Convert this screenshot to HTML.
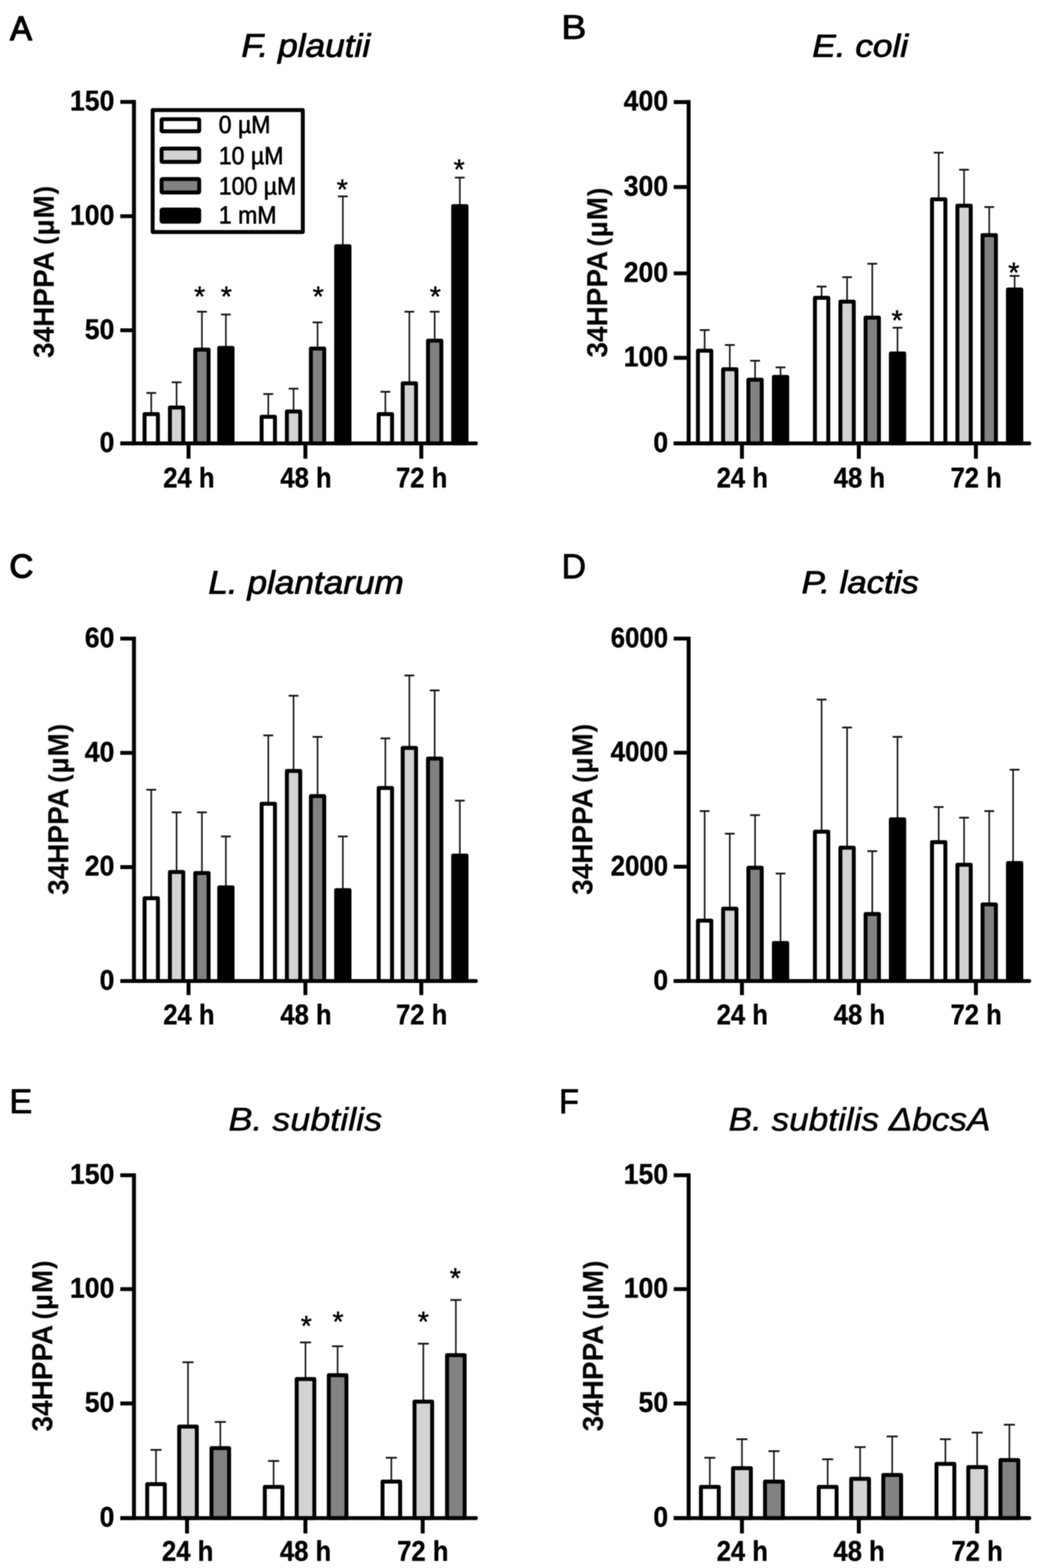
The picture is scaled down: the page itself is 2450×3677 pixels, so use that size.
<!DOCTYPE html>
<html lang="en"><head><meta charset="utf-8"><title>34HPPA production by gut bacteria</title>
<style>
html,body{margin:0;padding:0;background:#fff;}
body{width:2450px;height:3677px;}
svg{display:block;font-family:"Liberation Sans",sans-serif;}
#fig{filter:blur(0.8px);}
text{fill:#000;white-space:pre;}
</style></head><body>
<svg width="2450" height="3677" viewBox="0 0 2450 3677">
<rect width="2450" height="3677" fill="#fff"/>
<g id="fig">
<g>
<line x1="354.6" y1="921.5" x2="354.6" y2="968.45" stroke="#161616" stroke-width="3.7" stroke-linecap="butt"/>
<line x1="343.1" y1="921.5" x2="366.1" y2="921.5" stroke="#161616" stroke-width="4.2" stroke-linecap="butt"/>
<line x1="414" y1="896.5" x2="414" y2="952.95" stroke="#161616" stroke-width="3.7" stroke-linecap="butt"/>
<line x1="402.5" y1="896.5" x2="425.5" y2="896.5" stroke="#161616" stroke-width="4.2" stroke-linecap="butt"/>
<line x1="473.4" y1="731" x2="473.4" y2="817.2" stroke="#161616" stroke-width="3.7" stroke-linecap="butt"/>
<line x1="461.9" y1="731" x2="484.9" y2="731" stroke="#161616" stroke-width="4.2" stroke-linecap="butt"/>
<line x1="529.6" y1="737.5" x2="529.6" y2="813.2" stroke="#161616" stroke-width="3.7" stroke-linecap="butt"/>
<line x1="518.1" y1="737.5" x2="541.1" y2="737.5" stroke="#161616" stroke-width="4.2" stroke-linecap="butt"/>
<line x1="629" y1="924" x2="629" y2="974.7" stroke="#161616" stroke-width="3.7" stroke-linecap="butt"/>
<line x1="617.5" y1="924" x2="640.5" y2="924" stroke="#161616" stroke-width="4.2" stroke-linecap="butt"/>
<line x1="688.25" y1="911.5" x2="688.25" y2="962.2" stroke="#161616" stroke-width="3.7" stroke-linecap="butt"/>
<line x1="676.75" y1="911.5" x2="699.75" y2="911.5" stroke="#161616" stroke-width="4.2" stroke-linecap="butt"/>
<line x1="744.5" y1="756" x2="744.5" y2="814.7" stroke="#161616" stroke-width="3.7" stroke-linecap="butt"/>
<line x1="733" y1="756" x2="756" y2="756" stroke="#161616" stroke-width="4.2" stroke-linecap="butt"/>
<line x1="803.75" y1="460.5" x2="803.75" y2="574.7" stroke="#161616" stroke-width="3.7" stroke-linecap="butt"/>
<line x1="792.25" y1="460.5" x2="815.25" y2="460.5" stroke="#161616" stroke-width="4.2" stroke-linecap="butt"/>
<line x1="903.5" y1="918.75" x2="903.5" y2="968.45" stroke="#161616" stroke-width="3.7" stroke-linecap="butt"/>
<line x1="892" y1="918.75" x2="915" y2="918.75" stroke="#161616" stroke-width="4.2" stroke-linecap="butt"/>
<line x1="959.75" y1="731" x2="959.75" y2="896.2" stroke="#161616" stroke-width="3.7" stroke-linecap="butt"/>
<line x1="948.25" y1="731" x2="971.25" y2="731" stroke="#161616" stroke-width="4.2" stroke-linecap="butt"/>
<line x1="1019.1" y1="731" x2="1019.1" y2="796.2" stroke="#161616" stroke-width="3.7" stroke-linecap="butt"/>
<line x1="1007.6" y1="731" x2="1030.6" y2="731" stroke="#161616" stroke-width="4.2" stroke-linecap="butt"/>
<line x1="1078.1" y1="416.5" x2="1078.1" y2="480.7" stroke="#161616" stroke-width="3.7" stroke-linecap="butt"/>
<line x1="1066.6" y1="416.5" x2="1089.6" y2="416.5" stroke="#161616" stroke-width="4.2" stroke-linecap="butt"/>
<rect x="338.95" y="971.05" width="31.3" height="68.7" fill="#ffffff" stroke="#000" stroke-width="9.2" stroke-linejoin="round"/>
<rect x="398.35" y="955.55" width="31.3" height="84.2" fill="#d3d3d3" stroke="#000" stroke-width="9.2" stroke-linejoin="round"/>
<rect x="457.75" y="819.8" width="31.3" height="219.95" fill="#828282" stroke="#000" stroke-width="9.2" stroke-linejoin="round"/>
<rect x="513.95" y="815.8" width="31.3" height="223.95" fill="#000000" stroke="#000" stroke-width="9.2" stroke-linejoin="round"/>
<rect x="613.35" y="977.3" width="31.3" height="62.45" fill="#ffffff" stroke="#000" stroke-width="9.2" stroke-linejoin="round"/>
<rect x="672.6" y="964.8" width="31.3" height="74.95" fill="#d3d3d3" stroke="#000" stroke-width="9.2" stroke-linejoin="round"/>
<rect x="728.85" y="817.3" width="31.3" height="222.45" fill="#828282" stroke="#000" stroke-width="9.2" stroke-linejoin="round"/>
<rect x="788.1" y="577.3" width="31.3" height="462.45" fill="#000000" stroke="#000" stroke-width="9.2" stroke-linejoin="round"/>
<rect x="887.85" y="971.05" width="31.3" height="68.7" fill="#ffffff" stroke="#000" stroke-width="9.2" stroke-linejoin="round"/>
<rect x="944.1" y="898.8" width="31.3" height="140.95" fill="#d3d3d3" stroke="#000" stroke-width="9.2" stroke-linejoin="round"/>
<rect x="1003.45" y="798.8" width="31.3" height="240.95" fill="#828282" stroke="#000" stroke-width="9.2" stroke-linejoin="round"/>
<rect x="1062.45" y="483.3" width="31.3" height="556.45" fill="#000000" stroke="#000" stroke-width="9.2" stroke-linejoin="round"/>
<line x1="314.1" y1="234.4" x2="314.1" y2="1044.35" stroke="#000" stroke-width="9.2" stroke-linecap="butt"/>
<line x1="282" y1="1039.75" x2="1117.5" y2="1039.75" stroke="#000" stroke-width="9.2" stroke-linecap="butt"/>
<circle cx="1115.9" cy="1039.75" r="4.6"/>
<line x1="282" y1="239" x2="314.1" y2="239" stroke="#000" stroke-width="9.2" stroke-linecap="butt"/>
<text transform="translate(164.05 259) scale(0.9360 1.0000)" font-size="66.6" font-weight="bold" stroke="#000" stroke-width="0.8" stroke-linejoin="round">150</text>
<line x1="282" y1="507" x2="314.1" y2="507" stroke="#000" stroke-width="9.2" stroke-linecap="butt"/>
<text transform="translate(164.05 527) scale(0.9360 1.0000)" font-size="66.6" font-weight="bold" stroke="#000" stroke-width="0.8" stroke-linejoin="round">100</text>
<line x1="282" y1="774.5" x2="314.1" y2="774.5" stroke="#000" stroke-width="9.2" stroke-linecap="butt"/>
<text transform="translate(198.8 794.5) scale(0.9360 1.0000)" font-size="66.6" font-weight="bold" stroke="#000" stroke-width="0.8" stroke-linejoin="round">50</text>
<line x1="282" y1="1039.75" x2="314.1" y2="1039.75" stroke="#000" stroke-width="9.2" stroke-linecap="butt"/>
<text transform="translate(233.4 1059.75) scale(0.9360 1.0000)" font-size="66.6" font-weight="bold" stroke="#000" stroke-width="0.8" stroke-linejoin="round">0</text>
<line x1="442" y1="1039.75" x2="442" y2="1075.75" stroke="#000" stroke-width="9.2" stroke-linecap="butt"/>
<text transform="translate(382.63 1143.35) scale(0.9000 1.0000)" font-size="66.8" font-weight="bold" stroke="#000" stroke-width="0.8" stroke-linejoin="round">24 h</text>
<line x1="716" y1="1039.75" x2="716" y2="1075.75" stroke="#000" stroke-width="9.2" stroke-linecap="butt"/>
<text transform="translate(657.23 1143.35) scale(0.9000 1.0000)" font-size="66.8" font-weight="bold" stroke="#000" stroke-width="0.8" stroke-linejoin="round">48 h</text>
<line x1="987.75" y1="1039.75" x2="987.75" y2="1075.75" stroke="#000" stroke-width="9.2" stroke-linecap="butt"/>
<text transform="translate(928.41 1143.35) scale(0.9000 1.0000)" font-size="66.8" font-weight="bold" stroke="#000" stroke-width="0.8" stroke-linejoin="round">72 h</text>
<text transform="translate(126.1 839.48) rotate(-90) scale(0.9607 1)" font-size="68.3" font-weight="bold"><tspan>34HPPA </tspan><tspan x="276.23" dy="-1.5" font-size="62.7" letter-spacing="1.9">(</tspan><tspan dy="1.5" letter-spacing="1.9">µM</tspan><tspan dy="-1.5" font-size="62.7">)</tspan></text>
<text transform="translate(566.02 133.2) scale(1.1031 1.0000)" font-size="75.03" font-style="italic" stroke="#000" stroke-width="1.8" stroke-linejoin="round">F. plautii</text>
<text transform="translate(23.51 93.9) scale(0.9694 1.0000)" font-size="79.56" stroke="#000" stroke-width="3" stroke-linejoin="round">A</text>
<text transform="translate(455.11 718.26)" font-size="67.14" stroke="#000" stroke-width="1" stroke-linejoin="round">*</text>
<text transform="translate(517.41 718.26)" font-size="67.14" stroke="#000" stroke-width="1" stroke-linejoin="round">*</text>
<text transform="translate(732.91 718.46)" font-size="67.14" stroke="#000" stroke-width="1" stroke-linejoin="round">*</text>
<text transform="translate(789.46 466.76)" font-size="66.86" stroke="#000" stroke-width="1" stroke-linejoin="round">*</text>
<text transform="translate(1007.41 718.46)" font-size="67.14" stroke="#000" stroke-width="1" stroke-linejoin="round">*</text>
<text transform="translate(1063.46 420.26)" font-size="66.86" stroke="#000" stroke-width="1" stroke-linejoin="round">*</text>
<rect x="357.9" y="258.1" width="352" height="286" fill="#fff" stroke="#000" stroke-width="9.2" stroke-linejoin="round"/>
<rect x="378.8" y="279.5" width="88.2" height="28.4" rx="2" fill="#ffffff" stroke="#000" stroke-width="9.2" stroke-linejoin="round"/>
<text transform="translate(512.84 311.9) scale(0.9310 1.0000)" font-size="58.1" stroke="#000" stroke-width="1.5" stroke-linejoin="round">0 µM</text>
<rect x="378.8" y="348.4" width="88.2" height="31.2" rx="2" fill="#d3d3d3" stroke="#000" stroke-width="9.2" stroke-linejoin="round"/>
<text transform="translate(513.04 384.6) scale(0.9310 1.0000)" font-size="58.1" stroke="#000" stroke-width="1.5" stroke-linejoin="round">10 µM</text>
<rect x="378.8" y="419.9" width="88.2" height="31.4" rx="2" fill="#828282" stroke="#000" stroke-width="9.2" stroke-linejoin="round"/>
<text transform="translate(513.04 456.1) scale(0.9310 1.0000)" font-size="58.1" stroke="#000" stroke-width="1.5" stroke-linejoin="round">100 µM</text>
<rect x="378.8" y="491.3" width="88.2" height="28.5" rx="2" fill="#000000" stroke="#000" stroke-width="9.2" stroke-linejoin="round"/>
<text transform="translate(513.04 524.4) scale(0.9310 1.0000)" font-size="58.1" stroke="#000" stroke-width="1.5" stroke-linejoin="round">1 mM</text>
</g>
<g>
<line x1="1652" y1="774" x2="1652" y2="819.7" stroke="#161616" stroke-width="3.7" stroke-linecap="butt"/>
<line x1="1640.5" y1="774" x2="1663.5" y2="774" stroke="#161616" stroke-width="4.2" stroke-linecap="butt"/>
<line x1="1711" y1="809" x2="1711" y2="863.2" stroke="#161616" stroke-width="3.7" stroke-linecap="butt"/>
<line x1="1699.5" y1="809" x2="1722.5" y2="809" stroke="#161616" stroke-width="4.2" stroke-linecap="butt"/>
<line x1="1770.25" y1="846" x2="1770.25" y2="887.7" stroke="#161616" stroke-width="3.7" stroke-linecap="butt"/>
<line x1="1758.75" y1="846" x2="1781.75" y2="846" stroke="#161616" stroke-width="4.2" stroke-linecap="butt"/>
<line x1="1830" y1="861.5" x2="1830" y2="881.2" stroke="#161616" stroke-width="3.7" stroke-linecap="butt"/>
<line x1="1818.5" y1="861.5" x2="1841.5" y2="861.5" stroke="#161616" stroke-width="4.2" stroke-linecap="butt"/>
<line x1="1926.25" y1="672" x2="1926.25" y2="695.7" stroke="#161616" stroke-width="3.7" stroke-linecap="butt"/>
<line x1="1914.75" y1="672" x2="1937.75" y2="672" stroke="#161616" stroke-width="4.2" stroke-linecap="butt"/>
<line x1="1986" y1="650" x2="1986" y2="704.7" stroke="#161616" stroke-width="3.7" stroke-linecap="butt"/>
<line x1="1974.5" y1="650" x2="1997.5" y2="650" stroke="#161616" stroke-width="4.2" stroke-linecap="butt"/>
<line x1="2045" y1="618.5" x2="2045" y2="742.2" stroke="#161616" stroke-width="3.7" stroke-linecap="butt"/>
<line x1="2033.5" y1="618.5" x2="2056.5" y2="618.5" stroke="#161616" stroke-width="4.2" stroke-linecap="butt"/>
<line x1="2104.25" y1="768.5" x2="2104.25" y2="826.2" stroke="#161616" stroke-width="3.7" stroke-linecap="butt"/>
<line x1="2092.75" y1="768.5" x2="2115.75" y2="768.5" stroke="#161616" stroke-width="4.2" stroke-linecap="butt"/>
<line x1="2200.75" y1="358" x2="2200.75" y2="464.7" stroke="#161616" stroke-width="3.7" stroke-linecap="butt"/>
<line x1="2189.25" y1="358" x2="2212.25" y2="358" stroke="#161616" stroke-width="4.2" stroke-linecap="butt"/>
<line x1="2260.25" y1="398" x2="2260.25" y2="479.7" stroke="#161616" stroke-width="3.7" stroke-linecap="butt"/>
<line x1="2248.75" y1="398" x2="2271.75" y2="398" stroke="#161616" stroke-width="4.2" stroke-linecap="butt"/>
<line x1="2319.25" y1="485.5" x2="2319.25" y2="548.7" stroke="#161616" stroke-width="3.7" stroke-linecap="butt"/>
<line x1="2307.75" y1="485.5" x2="2330.75" y2="485.5" stroke="#161616" stroke-width="4.2" stroke-linecap="butt"/>
<line x1="2378.75" y1="647" x2="2378.75" y2="676.2" stroke="#161616" stroke-width="3.7" stroke-linecap="butt"/>
<line x1="2367.25" y1="647" x2="2390.25" y2="647" stroke="#161616" stroke-width="4.2" stroke-linecap="butt"/>
<rect x="1636.35" y="822.3" width="31.3" height="217.45" fill="#ffffff" stroke="#000" stroke-width="9.2" stroke-linejoin="round"/>
<rect x="1695.35" y="865.8" width="31.3" height="173.95" fill="#d3d3d3" stroke="#000" stroke-width="9.2" stroke-linejoin="round"/>
<rect x="1754.6" y="890.3" width="31.3" height="149.45" fill="#828282" stroke="#000" stroke-width="9.2" stroke-linejoin="round"/>
<rect x="1814.35" y="883.8" width="31.3" height="155.95" fill="#000000" stroke="#000" stroke-width="9.2" stroke-linejoin="round"/>
<rect x="1910.6" y="698.3" width="31.3" height="341.45" fill="#ffffff" stroke="#000" stroke-width="9.2" stroke-linejoin="round"/>
<rect x="1970.35" y="707.3" width="31.3" height="332.45" fill="#d3d3d3" stroke="#000" stroke-width="9.2" stroke-linejoin="round"/>
<rect x="2029.35" y="744.8" width="31.3" height="294.95" fill="#828282" stroke="#000" stroke-width="9.2" stroke-linejoin="round"/>
<rect x="2088.6" y="828.8" width="31.3" height="210.95" fill="#000000" stroke="#000" stroke-width="9.2" stroke-linejoin="round"/>
<rect x="2185.1" y="467.3" width="31.3" height="572.45" fill="#ffffff" stroke="#000" stroke-width="9.2" stroke-linejoin="round"/>
<rect x="2244.6" y="482.3" width="31.3" height="557.45" fill="#d3d3d3" stroke="#000" stroke-width="9.2" stroke-linejoin="round"/>
<rect x="2303.6" y="551.3" width="31.3" height="488.45" fill="#828282" stroke="#000" stroke-width="9.2" stroke-linejoin="round"/>
<rect x="2363.1" y="678.8" width="31.3" height="360.95" fill="#000000" stroke="#000" stroke-width="9.2" stroke-linejoin="round"/>
<line x1="1614.5" y1="234.7" x2="1614.5" y2="1044.35" stroke="#000" stroke-width="9.2" stroke-linecap="butt"/>
<line x1="1579.5" y1="1039.75" x2="2414.8" y2="1039.75" stroke="#000" stroke-width="9.2" stroke-linecap="butt"/>
<circle cx="2413.2" cy="1039.75" r="4.6"/>
<line x1="1579.5" y1="239.3" x2="1614.5" y2="239.3" stroke="#000" stroke-width="9.2" stroke-linecap="butt"/>
<text transform="translate(1462.35 259.3) scale(0.9360 1.0000)" font-size="66.6" font-weight="bold" stroke="#000" stroke-width="0.8" stroke-linejoin="round">400</text>
<line x1="1579.5" y1="438.6" x2="1614.5" y2="438.6" stroke="#000" stroke-width="9.2" stroke-linecap="butt"/>
<text transform="translate(1462.35 458.6) scale(0.9360 1.0000)" font-size="66.6" font-weight="bold" stroke="#000" stroke-width="0.8" stroke-linejoin="round">300</text>
<line x1="1579.5" y1="641" x2="1614.5" y2="641" stroke="#000" stroke-width="9.2" stroke-linecap="butt"/>
<text transform="translate(1462.35 661) scale(0.9360 1.0000)" font-size="66.6" font-weight="bold" stroke="#000" stroke-width="0.8" stroke-linejoin="round">200</text>
<line x1="1579.5" y1="839.2" x2="1614.5" y2="839.2" stroke="#000" stroke-width="9.2" stroke-linecap="butt"/>
<text transform="translate(1462.35 859.2) scale(0.9360 1.0000)" font-size="66.6" font-weight="bold" stroke="#000" stroke-width="0.8" stroke-linejoin="round">100</text>
<line x1="1579.5" y1="1039.75" x2="1614.5" y2="1039.75" stroke="#000" stroke-width="9.2" stroke-linecap="butt"/>
<text transform="translate(1531.7 1059.75) scale(0.9360 1.0000)" font-size="66.6" font-weight="bold" stroke="#000" stroke-width="0.8" stroke-linejoin="round">0</text>
<line x1="1739.5" y1="1039.75" x2="1739.5" y2="1075.75" stroke="#000" stroke-width="9.2" stroke-linecap="butt"/>
<text transform="translate(1680.13 1143.35) scale(0.9000 1.0000)" font-size="66.8" font-weight="bold" stroke="#000" stroke-width="0.8" stroke-linejoin="round">24 h</text>
<line x1="2013.5" y1="1039.75" x2="2013.5" y2="1075.75" stroke="#000" stroke-width="9.2" stroke-linecap="butt"/>
<text transform="translate(1954.73 1143.35) scale(0.9000 1.0000)" font-size="66.8" font-weight="bold" stroke="#000" stroke-width="0.8" stroke-linejoin="round">48 h</text>
<line x1="2288" y1="1039.75" x2="2288" y2="1075.75" stroke="#000" stroke-width="9.2" stroke-linecap="butt"/>
<text transform="translate(2228.41 1143.35) scale(0.9000 1.0000)" font-size="66.8" font-weight="bold" stroke="#000" stroke-width="0.8" stroke-linejoin="round">72 h</text>
<text transform="translate(1423.6 838.48) rotate(-90) scale(0.9607 1)" font-size="68.3" font-weight="bold"><tspan>34HPPA </tspan><tspan x="270.82" dy="-1.5" font-size="62.7" letter-spacing="1.9">(</tspan><tspan dy="1.5" letter-spacing="1.9">µM</tspan><tspan dy="-1.5" font-size="62.7">)</tspan></text>
<text transform="translate(1904.52 133.2) scale(1.0996 1.0000)" font-size="75.03" font-style="italic" stroke="#000" stroke-width="1.8" stroke-linejoin="round">E. coli</text>
<text transform="translate(1315.92 91.4) scale(1.0953 1.0000)" font-size="80.58" stroke="#000" stroke-width="1.8" stroke-linejoin="round">B</text>
<text transform="translate(2089.96 774.26)" font-size="66.86" stroke="#000" stroke-width="1" stroke-linejoin="round">*</text>
<text transform="translate(2363.85 662.46)" font-size="67.43" stroke="#000" stroke-width="1" stroke-linejoin="round">*</text>
</g>
<g>
<line x1="354.6" y1="1852" x2="354.6" y2="2103.7" stroke="#161616" stroke-width="3.7" stroke-linecap="butt"/>
<line x1="343.1" y1="1852" x2="366.1" y2="1852" stroke="#161616" stroke-width="4.2" stroke-linecap="butt"/>
<line x1="414" y1="1905" x2="414" y2="2042.2" stroke="#161616" stroke-width="3.7" stroke-linecap="butt"/>
<line x1="402.5" y1="1905" x2="425.5" y2="1905" stroke="#161616" stroke-width="4.2" stroke-linecap="butt"/>
<line x1="473.4" y1="1905" x2="473.4" y2="2044.7" stroke="#161616" stroke-width="3.7" stroke-linecap="butt"/>
<line x1="461.9" y1="1905" x2="484.9" y2="1905" stroke="#161616" stroke-width="4.2" stroke-linecap="butt"/>
<line x1="529.6" y1="1961.5" x2="529.6" y2="2078.2" stroke="#161616" stroke-width="3.7" stroke-linecap="butt"/>
<line x1="518.1" y1="1961.5" x2="541.1" y2="1961.5" stroke="#161616" stroke-width="4.2" stroke-linecap="butt"/>
<line x1="629" y1="1724.5" x2="629" y2="1882.2" stroke="#161616" stroke-width="3.7" stroke-linecap="butt"/>
<line x1="617.5" y1="1724.5" x2="640.5" y2="1724.5" stroke="#161616" stroke-width="4.2" stroke-linecap="butt"/>
<line x1="688.25" y1="1631.5" x2="688.25" y2="1805.2" stroke="#161616" stroke-width="3.7" stroke-linecap="butt"/>
<line x1="676.75" y1="1631.5" x2="699.75" y2="1631.5" stroke="#161616" stroke-width="4.2" stroke-linecap="butt"/>
<line x1="744.5" y1="1728" x2="744.5" y2="1864.2" stroke="#161616" stroke-width="3.7" stroke-linecap="butt"/>
<line x1="733" y1="1728" x2="756" y2="1728" stroke="#161616" stroke-width="4.2" stroke-linecap="butt"/>
<line x1="803.75" y1="1961.5" x2="803.75" y2="2084.7" stroke="#161616" stroke-width="3.7" stroke-linecap="butt"/>
<line x1="792.25" y1="1961.5" x2="815.25" y2="1961.5" stroke="#161616" stroke-width="4.2" stroke-linecap="butt"/>
<line x1="903.5" y1="1731.5" x2="903.5" y2="1845.2" stroke="#161616" stroke-width="3.7" stroke-linecap="butt"/>
<line x1="892" y1="1731.5" x2="915" y2="1731.5" stroke="#161616" stroke-width="4.2" stroke-linecap="butt"/>
<line x1="959.75" y1="1584" x2="959.75" y2="1751.2" stroke="#161616" stroke-width="3.7" stroke-linecap="butt"/>
<line x1="948.25" y1="1584" x2="971.25" y2="1584" stroke="#161616" stroke-width="4.2" stroke-linecap="butt"/>
<line x1="1019.1" y1="1619" x2="1019.1" y2="1776.2" stroke="#161616" stroke-width="3.7" stroke-linecap="butt"/>
<line x1="1007.6" y1="1619" x2="1030.6" y2="1619" stroke="#161616" stroke-width="4.2" stroke-linecap="butt"/>
<line x1="1078.1" y1="1877.5" x2="1078.1" y2="2003.7" stroke="#161616" stroke-width="3.7" stroke-linecap="butt"/>
<line x1="1066.6" y1="1877.5" x2="1089.6" y2="1877.5" stroke="#161616" stroke-width="4.2" stroke-linecap="butt"/>
<rect x="338.95" y="2106.3" width="31.3" height="194.2" fill="#ffffff" stroke="#000" stroke-width="9.2" stroke-linejoin="round"/>
<rect x="398.35" y="2044.8" width="31.3" height="255.7" fill="#d3d3d3" stroke="#000" stroke-width="9.2" stroke-linejoin="round"/>
<rect x="457.75" y="2047.3" width="31.3" height="253.2" fill="#828282" stroke="#000" stroke-width="9.2" stroke-linejoin="round"/>
<rect x="513.95" y="2080.8" width="31.3" height="219.7" fill="#000000" stroke="#000" stroke-width="9.2" stroke-linejoin="round"/>
<rect x="613.35" y="1884.8" width="31.3" height="415.7" fill="#ffffff" stroke="#000" stroke-width="9.2" stroke-linejoin="round"/>
<rect x="672.6" y="1807.8" width="31.3" height="492.7" fill="#d3d3d3" stroke="#000" stroke-width="9.2" stroke-linejoin="round"/>
<rect x="728.85" y="1866.8" width="31.3" height="433.7" fill="#828282" stroke="#000" stroke-width="9.2" stroke-linejoin="round"/>
<rect x="788.1" y="2087.3" width="31.3" height="213.2" fill="#000000" stroke="#000" stroke-width="9.2" stroke-linejoin="round"/>
<rect x="887.85" y="1847.8" width="31.3" height="452.7" fill="#ffffff" stroke="#000" stroke-width="9.2" stroke-linejoin="round"/>
<rect x="944.1" y="1753.8" width="31.3" height="546.7" fill="#d3d3d3" stroke="#000" stroke-width="9.2" stroke-linejoin="round"/>
<rect x="1003.45" y="1778.8" width="31.3" height="521.7" fill="#828282" stroke="#000" stroke-width="9.2" stroke-linejoin="round"/>
<rect x="1062.45" y="2006.3" width="31.3" height="294.2" fill="#000000" stroke="#000" stroke-width="9.2" stroke-linejoin="round"/>
<line x1="314.1" y1="1492.9" x2="314.1" y2="2305.1" stroke="#000" stroke-width="9.2" stroke-linecap="butt"/>
<line x1="282" y1="2300.5" x2="1117.5" y2="2300.5" stroke="#000" stroke-width="9.2" stroke-linecap="butt"/>
<circle cx="1115.9" cy="2300.5" r="4.6"/>
<line x1="282" y1="1497.5" x2="314.1" y2="1497.5" stroke="#000" stroke-width="9.2" stroke-linecap="butt"/>
<text transform="translate(198.8 1517.5) scale(0.9360 1.0000)" font-size="66.6" font-weight="bold" stroke="#000" stroke-width="0.8" stroke-linejoin="round">60</text>
<line x1="282" y1="1765.5" x2="314.1" y2="1765.5" stroke="#000" stroke-width="9.2" stroke-linecap="butt"/>
<text transform="translate(198.8 1785.5) scale(0.9360 1.0000)" font-size="66.6" font-weight="bold" stroke="#000" stroke-width="0.8" stroke-linejoin="round">40</text>
<line x1="282" y1="2033.3" x2="314.1" y2="2033.3" stroke="#000" stroke-width="9.2" stroke-linecap="butt"/>
<text transform="translate(198.8 2053.3) scale(0.9360 1.0000)" font-size="66.6" font-weight="bold" stroke="#000" stroke-width="0.8" stroke-linejoin="round">20</text>
<line x1="282" y1="2300.5" x2="314.1" y2="2300.5" stroke="#000" stroke-width="9.2" stroke-linecap="butt"/>
<text transform="translate(233.4 2320.5) scale(0.9360 1.0000)" font-size="66.6" font-weight="bold" stroke="#000" stroke-width="0.8" stroke-linejoin="round">0</text>
<line x1="442" y1="2300.5" x2="442" y2="2333.5" stroke="#000" stroke-width="9.2" stroke-linecap="butt"/>
<text transform="translate(382.63 2401.6) scale(0.9000 1.0000)" font-size="66.8" font-weight="bold" stroke="#000" stroke-width="0.8" stroke-linejoin="round">24 h</text>
<line x1="716" y1="2300.5" x2="716" y2="2333.5" stroke="#000" stroke-width="9.2" stroke-linecap="butt"/>
<text transform="translate(657.23 2401.6) scale(0.9000 1.0000)" font-size="66.8" font-weight="bold" stroke="#000" stroke-width="0.8" stroke-linejoin="round">48 h</text>
<line x1="987.75" y1="2300.5" x2="987.75" y2="2333.5" stroke="#000" stroke-width="9.2" stroke-linecap="butt"/>
<text transform="translate(928.41 2401.6) scale(0.9000 1.0000)" font-size="66.8" font-weight="bold" stroke="#000" stroke-width="0.8" stroke-linejoin="round">72 h</text>
<text transform="translate(160.1 2098.58) rotate(-90) scale(0.9607 1)" font-size="68.3" font-weight="bold"><tspan>34HPPA </tspan><tspan x="273.63" dy="-1.5" font-size="62.7" letter-spacing="1.9">(</tspan><tspan dy="1.5" letter-spacing="1.9">µM</tspan><tspan dy="-1.5" font-size="62.7">)</tspan></text>
<text transform="translate(488.53 1391.7) scale(1.0947 1.0000)" font-size="75.31" font-style="italic" stroke="#000" stroke-width="1.8" stroke-linejoin="round">L. plantarum</text>
<text transform="translate(22.34 1354.2) scale(0.9947 1.0000)" font-size="77.56" stroke="#000" stroke-width="3" stroke-linejoin="round">C</text>
</g>
<g>
<line x1="1652" y1="1902" x2="1652" y2="2156.2" stroke="#161616" stroke-width="3.7" stroke-linecap="butt"/>
<line x1="1640.5" y1="1902" x2="1663.5" y2="1902" stroke="#161616" stroke-width="4.2" stroke-linecap="butt"/>
<line x1="1711" y1="1955" x2="1711" y2="2128.2" stroke="#161616" stroke-width="3.7" stroke-linecap="butt"/>
<line x1="1699.5" y1="1955" x2="1722.5" y2="1955" stroke="#161616" stroke-width="4.2" stroke-linecap="butt"/>
<line x1="1770.25" y1="1911.5" x2="1770.25" y2="2032.2" stroke="#161616" stroke-width="3.7" stroke-linecap="butt"/>
<line x1="1758.75" y1="1911.5" x2="1781.75" y2="1911.5" stroke="#161616" stroke-width="4.2" stroke-linecap="butt"/>
<line x1="1830" y1="2048.5" x2="1830" y2="2208.7" stroke="#161616" stroke-width="3.7" stroke-linecap="butt"/>
<line x1="1818.5" y1="2048.5" x2="1841.5" y2="2048.5" stroke="#161616" stroke-width="4.2" stroke-linecap="butt"/>
<line x1="1926.25" y1="1640.5" x2="1926.25" y2="1947.7" stroke="#161616" stroke-width="3.7" stroke-linecap="butt"/>
<line x1="1914.75" y1="1640.5" x2="1937.75" y2="1640.5" stroke="#161616" stroke-width="4.2" stroke-linecap="butt"/>
<line x1="1986" y1="1706" x2="1986" y2="1985.2" stroke="#161616" stroke-width="3.7" stroke-linecap="butt"/>
<line x1="1974.5" y1="1706" x2="1997.5" y2="1706" stroke="#161616" stroke-width="4.2" stroke-linecap="butt"/>
<line x1="2045" y1="1996" x2="2045" y2="2140.7" stroke="#161616" stroke-width="3.7" stroke-linecap="butt"/>
<line x1="2033.5" y1="1996" x2="2056.5" y2="1996" stroke="#161616" stroke-width="4.2" stroke-linecap="butt"/>
<line x1="2104.25" y1="1728" x2="2104.25" y2="1918.7" stroke="#161616" stroke-width="3.7" stroke-linecap="butt"/>
<line x1="2092.75" y1="1728" x2="2115.75" y2="1728" stroke="#161616" stroke-width="4.2" stroke-linecap="butt"/>
<line x1="2200.75" y1="1892.5" x2="2200.75" y2="1972.2" stroke="#161616" stroke-width="3.7" stroke-linecap="butt"/>
<line x1="2189.25" y1="1892.5" x2="2212.25" y2="1892.5" stroke="#161616" stroke-width="4.2" stroke-linecap="butt"/>
<line x1="2260.25" y1="1917.5" x2="2260.25" y2="2025.2" stroke="#161616" stroke-width="3.7" stroke-linecap="butt"/>
<line x1="2248.75" y1="1917.5" x2="2271.75" y2="1917.5" stroke="#161616" stroke-width="4.2" stroke-linecap="butt"/>
<line x1="2319.25" y1="1902" x2="2319.25" y2="2118.2" stroke="#161616" stroke-width="3.7" stroke-linecap="butt"/>
<line x1="2307.75" y1="1902" x2="2330.75" y2="1902" stroke="#161616" stroke-width="4.2" stroke-linecap="butt"/>
<line x1="2375.25" y1="1805" x2="2375.25" y2="2021.2" stroke="#161616" stroke-width="3.7" stroke-linecap="butt"/>
<line x1="2367.25" y1="1805" x2="2390.25" y2="1805" stroke="#161616" stroke-width="4.2" stroke-linecap="butt"/>
<rect x="1636.35" y="2158.8" width="31.3" height="141.7" fill="#ffffff" stroke="#000" stroke-width="9.2" stroke-linejoin="round"/>
<rect x="1695.35" y="2130.8" width="31.3" height="169.7" fill="#d3d3d3" stroke="#000" stroke-width="9.2" stroke-linejoin="round"/>
<rect x="1754.6" y="2034.8" width="31.3" height="265.7" fill="#828282" stroke="#000" stroke-width="9.2" stroke-linejoin="round"/>
<rect x="1814.35" y="2211.3" width="31.3" height="89.2" fill="#000000" stroke="#000" stroke-width="9.2" stroke-linejoin="round"/>
<rect x="1910.6" y="1950.3" width="31.3" height="350.2" fill="#ffffff" stroke="#000" stroke-width="9.2" stroke-linejoin="round"/>
<rect x="1970.35" y="1987.8" width="31.3" height="312.7" fill="#d3d3d3" stroke="#000" stroke-width="9.2" stroke-linejoin="round"/>
<rect x="2029.35" y="2143.3" width="31.3" height="157.2" fill="#828282" stroke="#000" stroke-width="9.2" stroke-linejoin="round"/>
<rect x="2088.6" y="1921.3" width="31.3" height="379.2" fill="#000000" stroke="#000" stroke-width="9.2" stroke-linejoin="round"/>
<rect x="2185.1" y="1974.8" width="31.3" height="325.7" fill="#ffffff" stroke="#000" stroke-width="9.2" stroke-linejoin="round"/>
<rect x="2244.6" y="2027.8" width="31.3" height="272.7" fill="#d3d3d3" stroke="#000" stroke-width="9.2" stroke-linejoin="round"/>
<rect x="2303.6" y="2120.8" width="31.3" height="179.7" fill="#828282" stroke="#000" stroke-width="9.2" stroke-linejoin="round"/>
<rect x="2363.1" y="2023.8" width="31.3" height="276.7" fill="#000000" stroke="#000" stroke-width="9.2" stroke-linejoin="round"/>
<line x1="1614.5" y1="1492.9" x2="1614.5" y2="2305.1" stroke="#000" stroke-width="9.2" stroke-linecap="butt"/>
<line x1="1579.5" y1="2300.5" x2="2414.8" y2="2300.5" stroke="#000" stroke-width="9.2" stroke-linecap="butt"/>
<circle cx="2413.2" cy="2300.5" r="4.6"/>
<line x1="1579.5" y1="1497.5" x2="1614.5" y2="1497.5" stroke="#000" stroke-width="9.2" stroke-linecap="butt"/>
<text transform="translate(1431.82 1517.5) scale(0.9080 1.0000)" font-size="66.6" font-weight="bold" stroke="#000" stroke-width="0.8" stroke-linejoin="round">6000</text>
<line x1="1579.5" y1="1765" x2="1614.5" y2="1765" stroke="#000" stroke-width="9.2" stroke-linecap="butt"/>
<text transform="translate(1431.82 1785) scale(0.9080 1.0000)" font-size="66.6" font-weight="bold" stroke="#000" stroke-width="0.8" stroke-linejoin="round">4000</text>
<line x1="1579.5" y1="2032.5" x2="1614.5" y2="2032.5" stroke="#000" stroke-width="9.2" stroke-linecap="butt"/>
<text transform="translate(1431.82 2052.5) scale(0.9080 1.0000)" font-size="66.6" font-weight="bold" stroke="#000" stroke-width="0.8" stroke-linejoin="round">2000</text>
<line x1="1579.5" y1="2300.5" x2="1614.5" y2="2300.5" stroke="#000" stroke-width="9.2" stroke-linecap="butt"/>
<text transform="translate(1531.7 2320.5) scale(0.9360 1.0000)" font-size="66.6" font-weight="bold" stroke="#000" stroke-width="0.8" stroke-linejoin="round">0</text>
<line x1="1739.5" y1="2300.5" x2="1739.5" y2="2333.5" stroke="#000" stroke-width="9.2" stroke-linecap="butt"/>
<text transform="translate(1680.13 2401.6) scale(0.9000 1.0000)" font-size="66.8" font-weight="bold" stroke="#000" stroke-width="0.8" stroke-linejoin="round">24 h</text>
<line x1="2013.5" y1="2300.5" x2="2013.5" y2="2333.5" stroke="#000" stroke-width="9.2" stroke-linecap="butt"/>
<text transform="translate(1954.73 2401.6) scale(0.9000 1.0000)" font-size="66.8" font-weight="bold" stroke="#000" stroke-width="0.8" stroke-linejoin="round">48 h</text>
<line x1="2288" y1="2300.5" x2="2288" y2="2333.5" stroke="#000" stroke-width="9.2" stroke-linecap="butt"/>
<text transform="translate(2228.41 2401.6) scale(0.9000 1.0000)" font-size="66.8" font-weight="bold" stroke="#000" stroke-width="0.8" stroke-linejoin="round">72 h</text>
<text transform="translate(1389 2098.58) rotate(-90) scale(0.9607 1)" font-size="68.3" font-weight="bold"><tspan>34HPPA </tspan><tspan x="273.63" dy="-1.5" font-size="62.7" letter-spacing="1.9">(</tspan><tspan dy="1.5" letter-spacing="1.9">µM</tspan><tspan dy="-1.5" font-size="62.7">)</tspan></text>
<text transform="translate(1879.56 1391.4) scale(1.0870 1.0000)" font-size="74.9" font-style="italic" stroke="#000" stroke-width="1.8" stroke-linejoin="round">P. lactis</text>
<text transform="translate(1316.66 1355.5) scale(0.9791 1.0000)" font-size="81.02" stroke="#000" stroke-width="1.8" stroke-linejoin="round">D</text>
</g>
<g>
<line x1="365.75" y1="3400" x2="365.75" y2="3477.7" stroke="#161616" stroke-width="3.7" stroke-linecap="butt"/>
<line x1="352.75" y1="3400" x2="378.75" y2="3400" stroke="#161616" stroke-width="4.2" stroke-linecap="butt"/>
<line x1="440.75" y1="3194.5" x2="440.75" y2="3342.7" stroke="#161616" stroke-width="3.7" stroke-linecap="butt"/>
<line x1="427.75" y1="3194.5" x2="453.75" y2="3194.5" stroke="#161616" stroke-width="4.2" stroke-linecap="butt"/>
<line x1="516.5" y1="3334.5" x2="516.5" y2="3393.2" stroke="#161616" stroke-width="3.7" stroke-linecap="butt"/>
<line x1="503.5" y1="3334.5" x2="529.5" y2="3334.5" stroke="#161616" stroke-width="4.2" stroke-linecap="butt"/>
<line x1="641.5" y1="3426" x2="641.5" y2="3484.2" stroke="#161616" stroke-width="3.7" stroke-linecap="butt"/>
<line x1="628.5" y1="3426" x2="654.5" y2="3426" stroke="#161616" stroke-width="4.2" stroke-linecap="butt"/>
<line x1="716.25" y1="3148" x2="716.25" y2="3231.2" stroke="#161616" stroke-width="3.7" stroke-linecap="butt"/>
<line x1="703.25" y1="3148" x2="729.25" y2="3148" stroke="#161616" stroke-width="4.2" stroke-linecap="butt"/>
<line x1="791.5" y1="3157" x2="791.5" y2="3222.2" stroke="#161616" stroke-width="3.7" stroke-linecap="butt"/>
<line x1="778.5" y1="3157" x2="804.5" y2="3157" stroke="#161616" stroke-width="4.2" stroke-linecap="butt"/>
<line x1="917.5" y1="3418.5" x2="917.5" y2="3471.7" stroke="#161616" stroke-width="3.7" stroke-linecap="butt"/>
<line x1="904.5" y1="3418.5" x2="930.5" y2="3418.5" stroke="#161616" stroke-width="4.2" stroke-linecap="butt"/>
<line x1="992.5" y1="3151" x2="992.5" y2="3284.2" stroke="#161616" stroke-width="3.7" stroke-linecap="butt"/>
<line x1="979.5" y1="3151" x2="1005.5" y2="3151" stroke="#161616" stroke-width="4.2" stroke-linecap="butt"/>
<line x1="1068.75" y1="3048.5" x2="1068.75" y2="3175.2" stroke="#161616" stroke-width="3.7" stroke-linecap="butt"/>
<line x1="1055.75" y1="3048.5" x2="1081.75" y2="3048.5" stroke="#161616" stroke-width="4.2" stroke-linecap="butt"/>
<rect x="345.1" y="3480.3" width="41.3" height="79.7" fill="#ffffff" stroke="#000" stroke-width="9.2" stroke-linejoin="round"/>
<rect x="420.1" y="3345.3" width="41.3" height="214.7" fill="#d3d3d3" stroke="#000" stroke-width="9.2" stroke-linejoin="round"/>
<rect x="495.85" y="3395.8" width="41.3" height="164.2" fill="#828282" stroke="#000" stroke-width="9.2" stroke-linejoin="round"/>
<rect x="620.85" y="3486.8" width="41.3" height="73.2" fill="#ffffff" stroke="#000" stroke-width="9.2" stroke-linejoin="round"/>
<rect x="695.6" y="3233.8" width="41.3" height="326.2" fill="#d3d3d3" stroke="#000" stroke-width="9.2" stroke-linejoin="round"/>
<rect x="770.85" y="3224.8" width="41.3" height="335.2" fill="#828282" stroke="#000" stroke-width="9.2" stroke-linejoin="round"/>
<rect x="896.85" y="3474.3" width="41.3" height="85.7" fill="#ffffff" stroke="#000" stroke-width="9.2" stroke-linejoin="round"/>
<rect x="971.85" y="3286.8" width="41.3" height="273.2" fill="#d3d3d3" stroke="#000" stroke-width="9.2" stroke-linejoin="round"/>
<rect x="1048.1" y="3177.8" width="41.3" height="382.2" fill="#828282" stroke="#000" stroke-width="9.2" stroke-linejoin="round"/>
<line x1="314.1" y1="2751.4" x2="314.1" y2="3564.6" stroke="#000" stroke-width="9.2" stroke-linecap="butt"/>
<line x1="282" y1="3560" x2="1117.5" y2="3560" stroke="#000" stroke-width="9.2" stroke-linecap="butt"/>
<circle cx="1115.9" cy="3560" r="4.6"/>
<line x1="282" y1="2756" x2="314.1" y2="2756" stroke="#000" stroke-width="9.2" stroke-linecap="butt"/>
<text transform="translate(164.05 2776) scale(0.9360 1.0000)" font-size="66.6" font-weight="bold" stroke="#000" stroke-width="0.8" stroke-linejoin="round">150</text>
<line x1="282" y1="3023" x2="314.1" y2="3023" stroke="#000" stroke-width="9.2" stroke-linecap="butt"/>
<text transform="translate(164.05 3043) scale(0.9360 1.0000)" font-size="66.6" font-weight="bold" stroke="#000" stroke-width="0.8" stroke-linejoin="round">100</text>
<line x1="282" y1="3291.2" x2="314.1" y2="3291.2" stroke="#000" stroke-width="9.2" stroke-linecap="butt"/>
<text transform="translate(198.8 3311.2) scale(0.9360 1.0000)" font-size="66.6" font-weight="bold" stroke="#000" stroke-width="0.8" stroke-linejoin="round">50</text>
<line x1="282" y1="3560" x2="314.1" y2="3560" stroke="#000" stroke-width="9.2" stroke-linecap="butt"/>
<text transform="translate(233.4 3580) scale(0.9360 1.0000)" font-size="66.6" font-weight="bold" stroke="#000" stroke-width="0.8" stroke-linejoin="round">0</text>
<line x1="438.5" y1="3560" x2="438.5" y2="3596" stroke="#000" stroke-width="9.2" stroke-linecap="butt"/>
<text transform="translate(379.83 3659.6) scale(0.9000 1.0000)" font-size="66.8" font-weight="bold" stroke="#000" stroke-width="0.8" stroke-linejoin="round">24 h</text>
<line x1="716" y1="3560" x2="716" y2="3596" stroke="#000" stroke-width="9.2" stroke-linecap="butt"/>
<text transform="translate(656.23 3659.6) scale(0.9000 1.0000)" font-size="66.8" font-weight="bold" stroke="#000" stroke-width="0.8" stroke-linejoin="round">48 h</text>
<line x1="991" y1="3560" x2="991" y2="3596" stroke="#000" stroke-width="9.2" stroke-linecap="butt"/>
<text transform="translate(931.16 3659.6) scale(0.9000 1.0000)" font-size="66.8" font-weight="bold" stroke="#000" stroke-width="0.8" stroke-linejoin="round">72 h</text>
<text transform="translate(122.6 3356.98) rotate(-90) scale(0.9607 1)" font-size="68.3" font-weight="bold"><tspan>34HPPA </tspan><tspan x="273.63" dy="-1.5" font-size="62.7" letter-spacing="1.9">(</tspan><tspan dy="1.5" letter-spacing="1.9">µM</tspan><tspan dy="-1.5" font-size="62.7">)</tspan></text>
<text transform="translate(535.67 2650.5) scale(1.0958 1.0000)" font-size="76.83" font-style="italic" stroke="#000" stroke-width="1.2" stroke-linejoin="round">B. subtilis</text>
<text transform="translate(21.97 2610.2) scale(0.9974 1.0000)" font-size="80.58" stroke="#000" stroke-width="1.8" stroke-linejoin="round">E</text>
<text transform="translate(704.96 3132.26)" font-size="66.86" stroke="#000" stroke-width="1" stroke-linejoin="round">*</text>
<text transform="translate(779.46 3122.26)" font-size="66.86" stroke="#000" stroke-width="1" stroke-linejoin="round">*</text>
<text transform="translate(979.46 3122.26)" font-size="66.86" stroke="#000" stroke-width="1" stroke-linejoin="round">*</text>
<text transform="translate(1054.46 3019.76)" font-size="66.86" stroke="#000" stroke-width="1" stroke-linejoin="round">*</text>
</g>
<g>
<line x1="1664.25" y1="3418.5" x2="1664.25" y2="3484.2" stroke="#161616" stroke-width="3.7" stroke-linecap="butt"/>
<line x1="1651.25" y1="3418.5" x2="1677.25" y2="3418.5" stroke="#161616" stroke-width="4.2" stroke-linecap="butt"/>
<line x1="1739.5" y1="3375" x2="1739.5" y2="3440.2" stroke="#161616" stroke-width="3.7" stroke-linecap="butt"/>
<line x1="1726.5" y1="3375" x2="1752.5" y2="3375" stroke="#161616" stroke-width="4.2" stroke-linecap="butt"/>
<line x1="1814.5" y1="3403" x2="1814.5" y2="3471.7" stroke="#161616" stroke-width="3.7" stroke-linecap="butt"/>
<line x1="1801.5" y1="3403" x2="1827.5" y2="3403" stroke="#161616" stroke-width="4.2" stroke-linecap="butt"/>
<line x1="1940.5" y1="3422" x2="1940.5" y2="3484.2" stroke="#161616" stroke-width="3.7" stroke-linecap="butt"/>
<line x1="1927.5" y1="3422" x2="1953.5" y2="3422" stroke="#161616" stroke-width="4.2" stroke-linecap="butt"/>
<line x1="2016.5" y1="3393.5" x2="2016.5" y2="3465.2" stroke="#161616" stroke-width="3.7" stroke-linecap="butt"/>
<line x1="2003.5" y1="3393.5" x2="2029.5" y2="3393.5" stroke="#161616" stroke-width="4.2" stroke-linecap="butt"/>
<line x1="2091.75" y1="3368.5" x2="2091.75" y2="3456.2" stroke="#161616" stroke-width="3.7" stroke-linecap="butt"/>
<line x1="2078.75" y1="3368.5" x2="2104.75" y2="3368.5" stroke="#161616" stroke-width="4.2" stroke-linecap="butt"/>
<line x1="2216.5" y1="3375" x2="2216.5" y2="3430.2" stroke="#161616" stroke-width="3.7" stroke-linecap="butt"/>
<line x1="2203.5" y1="3375" x2="2229.5" y2="3375" stroke="#161616" stroke-width="4.2" stroke-linecap="butt"/>
<line x1="2291" y1="3359.5" x2="2291" y2="3437.7" stroke="#161616" stroke-width="3.7" stroke-linecap="butt"/>
<line x1="2278" y1="3359.5" x2="2304" y2="3359.5" stroke="#161616" stroke-width="4.2" stroke-linecap="butt"/>
<line x1="2366.5" y1="3341" x2="2366.5" y2="3421.2" stroke="#161616" stroke-width="3.7" stroke-linecap="butt"/>
<line x1="2353.5" y1="3341" x2="2379.5" y2="3341" stroke="#161616" stroke-width="4.2" stroke-linecap="butt"/>
<rect x="1643.35" y="3486.8" width="41.8" height="73.2" fill="#ffffff" stroke="#000" stroke-width="9.2" stroke-linejoin="round"/>
<rect x="1718.6" y="3442.8" width="41.8" height="117.2" fill="#d3d3d3" stroke="#000" stroke-width="9.2" stroke-linejoin="round"/>
<rect x="1793.6" y="3474.3" width="41.8" height="85.7" fill="#828282" stroke="#000" stroke-width="9.2" stroke-linejoin="round"/>
<rect x="1919.6" y="3486.8" width="41.8" height="73.2" fill="#ffffff" stroke="#000" stroke-width="9.2" stroke-linejoin="round"/>
<rect x="1995.6" y="3467.8" width="41.8" height="92.2" fill="#d3d3d3" stroke="#000" stroke-width="9.2" stroke-linejoin="round"/>
<rect x="2070.85" y="3458.8" width="41.8" height="101.2" fill="#828282" stroke="#000" stroke-width="9.2" stroke-linejoin="round"/>
<rect x="2195.6" y="3432.8" width="41.8" height="127.2" fill="#ffffff" stroke="#000" stroke-width="9.2" stroke-linejoin="round"/>
<rect x="2270.1" y="3440.3" width="41.8" height="119.7" fill="#d3d3d3" stroke="#000" stroke-width="9.2" stroke-linejoin="round"/>
<rect x="2345.6" y="3423.8" width="41.8" height="136.2" fill="#828282" stroke="#000" stroke-width="9.2" stroke-linejoin="round"/>
<line x1="1614.5" y1="2751.4" x2="1614.5" y2="3564.6" stroke="#000" stroke-width="9.2" stroke-linecap="butt"/>
<line x1="1579.5" y1="3560" x2="2414.8" y2="3560" stroke="#000" stroke-width="9.2" stroke-linecap="butt"/>
<circle cx="2413.2" cy="3560" r="4.6"/>
<line x1="1579.5" y1="2756" x2="1614.5" y2="2756" stroke="#000" stroke-width="9.2" stroke-linecap="butt"/>
<text transform="translate(1462.35 2776) scale(0.9360 1.0000)" font-size="66.6" font-weight="bold" stroke="#000" stroke-width="0.8" stroke-linejoin="round">150</text>
<line x1="1579.5" y1="3023" x2="1614.5" y2="3023" stroke="#000" stroke-width="9.2" stroke-linecap="butt"/>
<text transform="translate(1462.35 3043) scale(0.9360 1.0000)" font-size="66.6" font-weight="bold" stroke="#000" stroke-width="0.8" stroke-linejoin="round">100</text>
<line x1="1579.5" y1="3291.2" x2="1614.5" y2="3291.2" stroke="#000" stroke-width="9.2" stroke-linecap="butt"/>
<text transform="translate(1497.1 3311.2) scale(0.9360 1.0000)" font-size="66.6" font-weight="bold" stroke="#000" stroke-width="0.8" stroke-linejoin="round">50</text>
<line x1="1579.5" y1="3560" x2="1614.5" y2="3560" stroke="#000" stroke-width="9.2" stroke-linecap="butt"/>
<text transform="translate(1531.7 3580) scale(0.9360 1.0000)" font-size="66.6" font-weight="bold" stroke="#000" stroke-width="0.8" stroke-linejoin="round">0</text>
<line x1="1739.5" y1="3560" x2="1739.5" y2="3596" stroke="#000" stroke-width="9.2" stroke-linecap="butt"/>
<text transform="translate(1680.13 3659.6) scale(0.9000 1.0000)" font-size="66.8" font-weight="bold" stroke="#000" stroke-width="0.8" stroke-linejoin="round">24 h</text>
<line x1="2013.5" y1="3560" x2="2013.5" y2="3596" stroke="#000" stroke-width="9.2" stroke-linecap="butt"/>
<text transform="translate(1953.98 3659.6) scale(0.9000 1.0000)" font-size="66.8" font-weight="bold" stroke="#000" stroke-width="0.8" stroke-linejoin="round">48 h</text>
<line x1="2291" y1="3560" x2="2291" y2="3596" stroke="#000" stroke-width="9.2" stroke-linecap="butt"/>
<text transform="translate(2230.66 3659.6) scale(0.9000 1.0000)" font-size="66.8" font-weight="bold" stroke="#000" stroke-width="0.8" stroke-linejoin="round">72 h</text>
<text transform="translate(1413.7 3356.68) rotate(-90) scale(0.9607 1)" font-size="68.3" font-weight="bold"><tspan>34HPPA </tspan><tspan x="273.31" dy="-1.5" font-size="62.7" letter-spacing="1.9">(</tspan><tspan dy="1.5" letter-spacing="1.9">µM</tspan><tspan dy="-1.5" font-size="62.7">)</tspan></text>
<text transform="translate(1708.23 2650.5) scale(1.0726 1.0000)" font-size="76.83" font-style="italic" stroke="#000" stroke-width="1.2" stroke-linejoin="round">B. subtilis ΔbcsA</text>
<text transform="translate(1310.82 2609.9) scale(0.9565 1.0000)" font-size="79.56" stroke="#000" stroke-width="1.8" stroke-linejoin="round">F</text>
</g>
</g>
</svg>
</body></html>
